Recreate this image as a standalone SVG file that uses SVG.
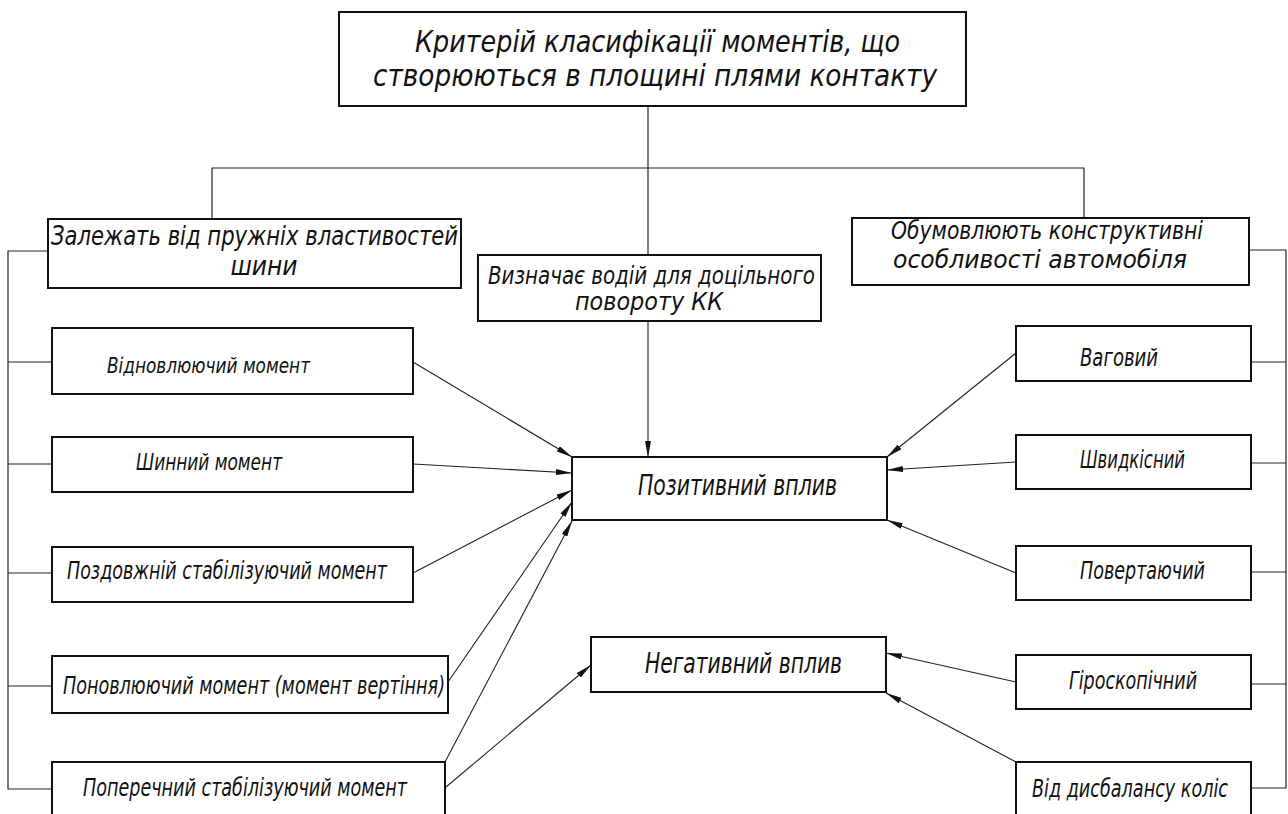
<svg xmlns="http://www.w3.org/2000/svg" width="1288" height="814" viewBox="0 0 1288 814">
<defs>
<style>
.box{fill:#fff;stroke:#111;stroke-width:2}
.ln{fill:none;stroke:#222;stroke-width:1.2}
.ar{fill:none;stroke:#222;stroke-width:1.1;marker-end:url(#ah)}
text{font-family:"Liberation Sans Narrow","DejaVu Sans Condensed","Liberation Sans",sans-serif;font-style:italic;fill:#111}
</style>
<marker id="ah" viewBox="0 0 16 6" refX="16" refY="3" markerWidth="16" markerHeight="6" markerUnits="userSpaceOnUse" orient="auto">
<path d="M0,0 L16,3 L0,6 Z" fill="#111"/>
</marker>
</defs>
<rect width="1288" height="814" fill="#fff"/>
<g id="connectors">
<line class="ln" x1="648" y1="106" x2="648" y2="255"/>
<polyline class="ln" points="212,219 212,168 1084,168 1084,218"/>
<polyline class="ln" points="48,251 8,251 8,789 52,789"/>
<line class="ln" x1="8" y1="362" x2="52" y2="362"/>
<line class="ln" x1="8" y1="464" x2="52" y2="464"/>
<line class="ln" x1="8" y1="573" x2="52" y2="573"/>
<line class="ln" x1="8" y1="686" x2="52" y2="686"/>
<polyline class="ln" points="1249,250 1286,250 1286,788 1251,788"/>
<line class="ln" x1="1251" y1="362" x2="1286" y2="362"/>
<line class="ln" x1="1251" y1="463" x2="1286" y2="463"/>
<line class="ln" x1="1251" y1="572" x2="1286" y2="572"/>
<line class="ln" x1="1251" y1="684" x2="1286" y2="684"/>
<line class="ar" x1="648" y1="321" x2="648" y2="457"/>
<line class="ar" x1="413" y1="362" x2="572" y2="457"/>
<line class="ar" x1="413" y1="464" x2="572" y2="473"/>
<line class="ar" x1="413" y1="573" x2="572" y2="490"/>
<line class="ar" x1="448" y1="682" x2="572" y2="502"/>
<line class="ar" x1="445" y1="762" x2="572" y2="521"/>
<line class="ar" x1="446" y1="787" x2="591" y2="665"/>
<line class="ar" x1="1016" y1="353" x2="887" y2="457"/>
<line class="ar" x1="1016" y1="462" x2="887" y2="470"/>
<line class="ar" x1="1016" y1="573" x2="887" y2="520"/>
<line class="ar" x1="1016" y1="682" x2="886" y2="653"/>
<line class="ar" x1="1016" y1="762" x2="886" y2="693"/>
</g>
<g id="n-top">
<rect class="box" x="339" y="12" width="627" height="94"/>
<text x="415" y="52" font-size="30" textLength="485" lengthAdjust="spacingAndGlyphs">Критерій класифікації моментів, що</text>
<text x="373" y="86" font-size="30" textLength="564" lengthAdjust="spacingAndGlyphs">створюються в площині плями контакту</text>
</g>
<g id="n-left-head">
<rect class="box" x="48" y="219" width="413" height="69"/>
<text x="51" y="245" font-size="26" textLength="407" lengthAdjust="spacingAndGlyphs">Залежать від пружніх властивостей</text>
<text x="264" y="275" font-size="26" text-anchor="middle">шини</text>
</g>
<g id="n-driver">
<rect class="box" x="478" y="255" width="343" height="66"/>
<text x="488" y="284" font-size="24" textLength="327" lengthAdjust="spacingAndGlyphs">Визначає водій для доцільного</text>
<text x="575" y="310" font-size="24" textLength="148" lengthAdjust="spacingAndGlyphs">повороту КК</text>
</g>
<g id="n-right-head">
<rect class="box" x="852" y="218" width="397" height="67"/>
<text x="891" y="239" font-size="24" textLength="312" lengthAdjust="spacingAndGlyphs">Обумовлюють конструктивні</text>
<text x="893" y="268" font-size="24" textLength="294" lengthAdjust="spacingAndGlyphs">особливості автомобіля</text>
</g>
<g id="n-l1">
<rect class="box" x="52" y="328" width="361" height="66"/>
<text x="107" y="373" font-size="22" textLength="203" lengthAdjust="spacingAndGlyphs">Відновлюючий момент</text>
</g>
<g id="n-l2">
<rect class="box" x="52" y="437" width="361" height="55"/>
<text x="136" y="470" font-size="23" textLength="146" lengthAdjust="spacingAndGlyphs">Шинний момент</text>
</g>
<g id="n-l3">
<rect class="box" x="52" y="547" width="361" height="55"/>
<text x="67" y="579" font-size="25" textLength="320" lengthAdjust="spacingAndGlyphs">Поздовжній стабілізуючий момент</text>
</g>
<g id="n-l4">
<rect class="box" x="52" y="656" width="396" height="57"/>
<text x="63" y="694" font-size="25" textLength="382" lengthAdjust="spacingAndGlyphs">Поновлюючий момент (момент вертіння)</text>
</g>
<g id="n-l5">
<rect class="box" x="52" y="762" width="393" height="53"/>
<text x="83" y="796" font-size="25" textLength="324" lengthAdjust="spacingAndGlyphs">Поперечний стабілізуючий момент</text>
</g>
<g id="n-pos">
<rect class="box" x="572" y="457" width="315" height="63"/>
<text x="638" y="495" font-size="28" textLength="199" lengthAdjust="spacingAndGlyphs">Позитивний вплив</text>
</g>
<g id="n-neg">
<rect class="box" x="591" y="637" width="295" height="55"/>
<text x="645" y="673" font-size="28" textLength="197" lengthAdjust="spacingAndGlyphs">Негативний вплив</text>
</g>
<g id="n-r1">
<rect class="box" x="1016" y="326" width="235" height="55"/>
<text x="1080" y="366" font-size="25" textLength="78" lengthAdjust="spacingAndGlyphs">Ваговий</text>
</g>
<g id="n-r2">
<rect class="box" x="1016" y="435" width="235" height="54"/>
<text x="1080" y="468" font-size="25" textLength="105" lengthAdjust="spacingAndGlyphs">Швидкісний</text>
</g>
<g id="n-r3">
<rect class="box" x="1016" y="546" width="235" height="54"/>
<text x="1080" y="579" font-size="25" textLength="125" lengthAdjust="spacingAndGlyphs">Повертаючий</text>
</g>
<g id="n-r4">
<rect class="box" x="1016" y="655" width="235" height="54"/>
<text x="1069" y="689" font-size="25" textLength="128" lengthAdjust="spacingAndGlyphs">Гіроскопічний</text>
</g>
<g id="n-r5">
<rect class="box" x="1016" y="762" width="235" height="53"/>
<text x="1032" y="797" font-size="25" textLength="196" lengthAdjust="spacingAndGlyphs">Від дисбалансу коліс</text>
</g>
</svg>
